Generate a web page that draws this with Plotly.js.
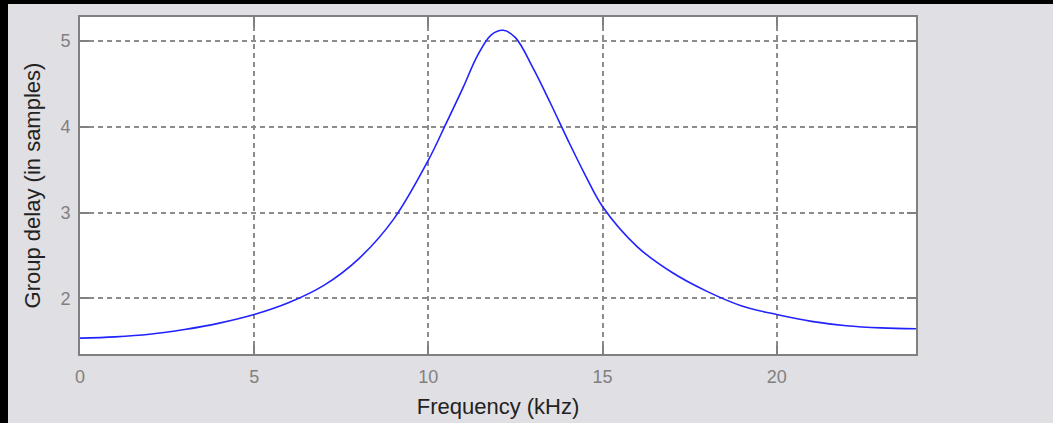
<!DOCTYPE html>
<html>
<head>
<meta charset="utf-8">
<script src="https://cdn.plot.ly/plotly-3.0.1.min.js"></script>
<style>
  html, body { margin: 0; padding: 0; background: #000; width: 1053px; height: 423px; overflow: hidden; }
  #chart { position: absolute; left: 8px; top: 4px; width: 1045px; height: 419px; }
</style>
</head>
<body>
<div id="chart"></div>
<script>
const frequencyKHz = [0, 1, 2, 3, 4, 5, 6, 7, 8, 9, 10, 10.5, 11, 11.4, 11.8, 12.15, 12.5, 13, 13.5, 14, 14.5, 15, 16, 17, 18, 19, 20, 21, 22, 23, 24];
const groupDelay = [1.535, 1.55, 1.58, 1.635, 1.71, 1.81, 1.95, 2.15, 2.46, 2.92, 3.61, 4.03, 4.46, 4.82, 5.07, 5.125, 5.04, 4.69, 4.28, 3.85, 3.44, 3.07, 2.60, 2.30, 2.08, 1.91, 1.81, 1.73, 1.68, 1.655, 1.645];
const xTicks = [0, 5, 10, 15, 20];
const yTicks = [2, 3, 4, 5];

const FONT = 'Liberation Sans, Arial, sans-serif';
const axisCommon = {
  showline: true, linecolor: '#808080', linewidth: 2, mirror: 'ticks',
  ticks: 'inside', ticklen: 9, tickwidth: 2, tickcolor: '#808080',
  showgrid: true, gridcolor: '#8c8c8c', gridwidth: 2, griddash: '5px,4px',
  zeroline: false,
  tickfont: { family: FONT, size: 18, color: '#808080' }
};

Plotly.newPlot('chart', [{
  x: frequencyKHz, y: groupDelay, type: 'scatter', mode: 'lines',
  line: { color: '#2222ff', width: 1.6, shape: 'spline', smoothing: 1 },
  hoverinfo: 'skip'
}], {
  width: 1045, height: 419,
  margin: { l: 72, r: 137, t: 13, b: 69 },
  paper_bgcolor: '#e0dfe3', plot_bgcolor: '#ffffff',
  showlegend: false,
  xaxis: Object.assign({}, axisCommon, {
    range: [0, 24], tickvals: xTicks, ticktext: xTicks.map(String),
    ticklabelstandoff: 5,
    title: { text: 'Frequency (kHz)', standoff: 13, font: { family: FONT, size: 22, color: '#222' } }
  }),
  yaxis: Object.assign({}, axisCommon, {
    range: [1.35, 5.28], tickvals: yTicks, ticktext: yTicks.map(String),
    ticklabelstandoff: 4,
    title: { text: 'Group delay (in samples)', standoff: 14, font: { family: FONT, size: 22, color: '#222' } }
  })
}, { staticPlot: true });
</script>
</body>
</html>
